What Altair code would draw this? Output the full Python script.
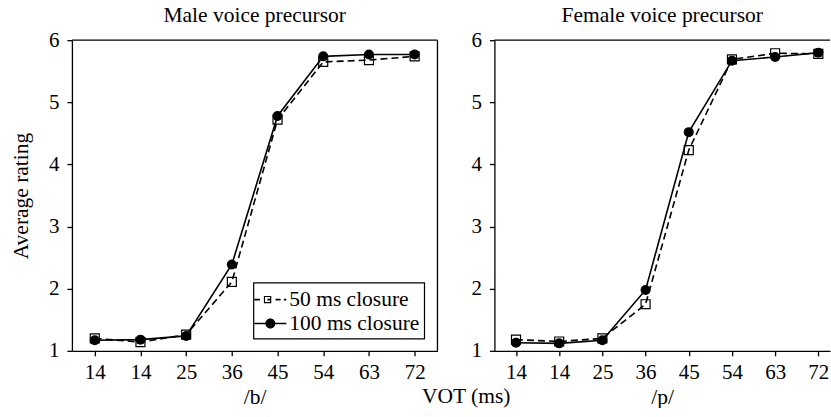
import altair as alt
import pandas as pd

# ---- data ----
vot_labels = ["14", "14", "25", "36", "45", "54", "63", "72"]
series_names = ["50 ms closure", "100 ms closure"]

male_50 = [1.20, 1.14, 1.26, 2.11, 4.72, 5.65, 5.68, 5.74]
male_100 = [1.17, 1.18, 1.24, 2.39, 4.78, 5.74, 5.77, 5.77]
female_50 = [1.18, 1.15, 1.20, 1.75, 4.23, 5.69, 5.79, 5.78]
female_100 = [1.13, 1.12, 1.17, 1.98, 4.52, 5.67, 5.73, 5.80]

y_min, y_max = 1, 6
FONT = "Liberation Serif"
FS = 21
FS_T = 21.5


def make_df(v50, v100):
    rows = []
    for i, (a, b) in enumerate(zip(v50, v100)):
        rows.append({"idx": i, "vot": vot_labels[i], "rating": a, "series": series_names[0]})
        rows.append({"idx": i, "vot": vot_labels[i], "rating": b, "series": series_names[1]})
    return pd.DataFrame(rows)


label_expr = "[" + ",".join("'%s'" % l for l in vot_labels) + "][datum.value]"

# ---- legend glyphs (line + marker) as filled custom symbol paths ----
LEG_SYM = 26.0            # nominal symbol box (px); symbolSize = LEG_SYM**2
U = LEG_SYM / 2.0         # px per path unit


def f(v):
    return "%.4f" % (v / U)


def rect_cw(x0, x1, y0, y1):
    return "M%s,%sH%sV%sH%sZ" % (f(x0), f(y0), f(x1), f(y1), f(x0))


def rect_ccw(x0, x1, y0, y1):
    return "M%s,%sV%sH%sV%sZ" % (f(x0), f(y0), f(y1), f(x1), f(y0))


def circle_cw(r):
    return "M%s,0A%s,%s,0,1,1,%s,0A%s,%s,0,1,1,%s,0Z" % (
        f(-r), f(r), f(r), f(r), f(r), f(r), f(-r))


LW = 0.8  # half line thickness in px
path50 = (rect_cw(-16, -10.5, -LW, LW) + rect_cw(-6.5, 0.9, -3.7, 3.7)
          + rect_ccw(-5.3, -0.3, -2.5, 2.5) + rect_cw(-3.0, -0.3, -LW, LW)
          + rect_cw(5.2, 10.2, -LW, LW) + rect_cw(13.5, 16, -LW, LW))
path100 = rect_cw(-16, 16, -LW, LW) + circle_cw(5.0)


def panel(df, width, x_hi, title, x_title, y_axis, with_legend=False, right_border=False):
    x = alt.X("idx:Q",
              scale=alt.Scale(domain=[-0.5, x_hi], nice=False, zero=False),
              axis=alt.Axis(values=list(range(len(vot_labels))), labelExpr=label_expr,
                            title=x_title, titleY=52.3, titleBaseline="alphabetic"))
    y = alt.Y("rating:Q", scale=alt.Scale(domain=[y_min, y_max], nice=False, zero=False),
              axis=y_axis)
    base = alt.Chart(df).encode(x=x, y=y)
    f50 = alt.datum.series == series_names[0]
    f100 = alt.datum.series == series_names[1]
    l50 = base.transform_filter(f50).mark_line(color="black", strokeWidth=1.6, strokeDash=[7, 4])
    p50 = base.transform_filter(f50).mark_point(shape="square", size=81, filled=False,
                                                color="black", strokeWidth=1.2, opacity=1)
    l100 = base.transform_filter(f100).mark_line(color="black", strokeWidth=1.6)
    p100 = base.transform_filter(f100).mark_point(shape="circle", size=100, filled=True,
                                                  color="black", opacity=1)
    top = alt.Chart(pd.DataFrame({"rating": [y_max]})).mark_rule(
        color="black", strokeWidth=1.3).encode(y=y)
    layers = [l50, p50, l100, p100, top]
    if right_border:
        rb = alt.Chart(pd.DataFrame({"idx": [x_hi]})).mark_rule(
            color="black", strokeWidth=1.3).encode(x=x)
        layers.append(rb)
    if with_legend:
        leg = alt.Chart(df).transform_filter("false").mark_point(
            filled=True, color="black", opacity=1).encode(
            x=x, y=y,
            shape=alt.Shape("series:N",
                            scale=alt.Scale(domain=series_names, range=[path50, path100]),
                            legend=alt.Legend(
                                title=None, orient="none", legendX=181.7, legendY=242.7,
                                padding=4, strokeColor="black",
                                labelFont=FONT, labelFontSize=FS_T, labelColor="black",
                                symbolSize=LEG_SYM ** 2, rowPadding=0, labelOffset=6,
                                symbolStrokeWidth=0, symbolFillColor="black",
                                symbolOpacity=1)),
        )
        layers.append(leg)
    return alt.layer(*layers).properties(width=width, height=311,
                                         title=alt.TitleParams(title))


left_y_axis = alt.Axis(values=list(range(y_min, y_max + 1)), format="d",
                       title="Average rating", titleX=-44.4, titleY=155.5,
                       titleAngle=270, titleBaseline="alphabetic")
right_y_axis = alt.Axis(values=list(range(y_min, y_max + 1)), format="d",
                        title="VOT (ms)", titleX=-28.7, titleY=363, titleAngle=0,
                        titleAlign="center", titleBaseline="alphabetic")

left = panel(make_df(male_50, male_100), 366, 7.5, "Male voice precursor", "/b/",
             left_y_axis, with_legend=True, right_border=True)
right = panel(make_df(female_50, female_100), 336, 7.27, "Female voice precursor", "/p/",
              right_y_axis)

chart = alt.hconcat(left, right, spacing=57, bounds="flush").resolve_scale(
    x="independent", y="independent"
).properties(
    padding={"left": 10, "top": 4, "right": 0, "bottom": 0},
    background="white",
).configure_view(strokeWidth=0).configure_axis(
    grid=False, domainColor="black", domainWidth=1.3, tickColor="black", tickWidth=1.3,
    tickSize=5, labelFont=FONT, labelFontSize=FS, labelColor="black", labelPadding=6,
    titleFont=FONT, titleFontSize=FS_T, titleColor="black", titleFontWeight="normal",
).configure_axisY(labelPadding=8).configure_title(
    font=FONT, fontSize=FS_T, fontWeight="normal", color="black", offset=3
).configure_legend(strokeWidth=1.2)

chart.save("out.html", embed_options={"renderer": "svg", "actions": False})
